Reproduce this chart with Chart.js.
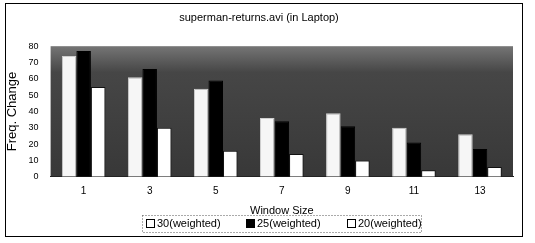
<!DOCTYPE html>
<html>
<head>
<meta charset="utf-8">
<script src="https://cdn.jsdelivr.net/npm/chart.js@4.4.0/dist/chart.umd.min.js"></script>
<style>
  body { margin: 0; background: #fff; }
  #wrap { width: 535px; height: 243px; }
</style>
</head>
<body>
<div id="wrap"><canvas id="myChart"></canvas></div>
<script>
// datos
var windowSizes = ['1', '3', '5', '7', '9', '11', '13'];
var w30 = [74, 61, 54, 36, 39, 30, 26];
var w25 = [77, 66, 59, 34, 31, 21, 17];
var w20 = [55, 30, 16, 14, 10, 4, 6];
var serieNames = ['30(weighted)', '25(weighted)', '20(weighted)'];
var legendFill = ['#fff', '#000', '#fff'];

// fondo oscuro del area de trazado, marco exterior y leyenda con recuadro punteado
var fondoPlugin = {
    id: 'fondo',
    beforeDraw: function(chart) {
        var ctx = chart.ctx;
        var a = chart.chartArea;
        ctx.save();
        var grad = ctx.createLinearGradient(0, a.top, 0, a.bottom);
        grad.addColorStop(0, '#757575');
        grad.addColorStop(0.2, '#464646');
        grad.addColorStop(1, '#383838');
        ctx.fillStyle = grad;
        ctx.fillRect(a.left, a.top, a.right - a.left, a.bottom - a.top);
        ctx.strokeStyle = '#000';
        ctx.lineWidth = 1;
        ctx.strokeRect(5.5, 3.5, 517, 233);
        ctx.restore();
    },
    afterDraw: function(chart) {
        var ctx = chart.ctx;
        ctx.save();
        ctx.setLineDash([1, 2]);
        ctx.strokeStyle = '#555';
        ctx.strokeRect(142.5, 215.5, 279, 17);
        ctx.setLineDash([]);
        ctx.font = '11px "Liberation Sans"';
        ctx.textBaseline = 'middle';
        var xs = [146, 246, 347];
        serieNames.forEach(function(name, i) {
            ctx.fillStyle = legendFill[i];
            ctx.fillRect(xs[i] + 0.5, 219.5, 8, 8);
            ctx.strokeStyle = '#000';
            ctx.strokeRect(xs[i] + 0.5, 219.5, 8, 8);
            ctx.fillStyle = '#000';
            ctx.fillText(name, xs[i] + 11, 224);
        });
        ctx.restore();
    }
};

var ctx = document.getElementById('myChart').getContext('2d');
var myChart = new Chart(ctx, {
    type: 'bar',
    data: {
        labels: windowSizes,
        datasets: [{
            label: serieNames[0],
            data: w30,
            backgroundColor: '#f6f6f6',
            borderColor: '#cfcfcf',
            borderWidth: 1
        }, {
            label: serieNames[1],
            data: w25,
            backgroundColor: '#000000',
            borderColor: '#000000',
            borderWidth: 1
        }, {
            label: serieNames[2],
            data: w20,
            backgroundColor: '#ffffff',
            borderColor: '#111111',
            borderWidth: 1
        }]
    },
    options: {
        responsive: true,
        maintainAspectRatio: false,
        animation: false,
        layout: { padding: { left: 5, right: 22, top: 5, bottom: 25 } },
        datasets: { bar: { categoryPercentage: 0.66, barPercentage: 1 } },
        plugins: {
            title: {
                display: true,
                text: 'superman-returns.avi (in Laptop)',
                color: '#000',
                font: { family: 'Liberation Sans', size: 11, weight: 'normal' },
                padding: { top: 6, bottom: 22 }
            },
            legend: { display: false },
            tooltip: { enabled: false }
        },
        scales: {
            x: {
                grid: { display: false, drawTicks: false },
                border: { color: '#222', width: 1 },
                ticks: { color: '#000', font: { family: 'Liberation Sans', size: 10 }, padding: 8 },
                title: {
                    display: true,
                    text: 'Window Size',
                    color: '#000',
                    font: { family: 'Liberation Sans', size: 11 },
                    padding: { top: 0, bottom: 0 }
                }
            },
            y: {
                min: 0,
                max: 80,
                grid: { display: false },
                border: { display: false },
                ticks: { stepSize: 10, autoSkip: false, color: '#000', font: { family: 'Liberation Sans', size: 9 }, padding: 4 },
                title: {
                    display: true,
                    text: 'Freq. Change',
                    color: '#000',
                    font: { family: 'Liberation Sans', size: 13 },
                    padding: { top: 0, bottom: 4 }
                }
            }
        }
    },
    plugins: [fondoPlugin]
});
</script>
</body>
</html>
